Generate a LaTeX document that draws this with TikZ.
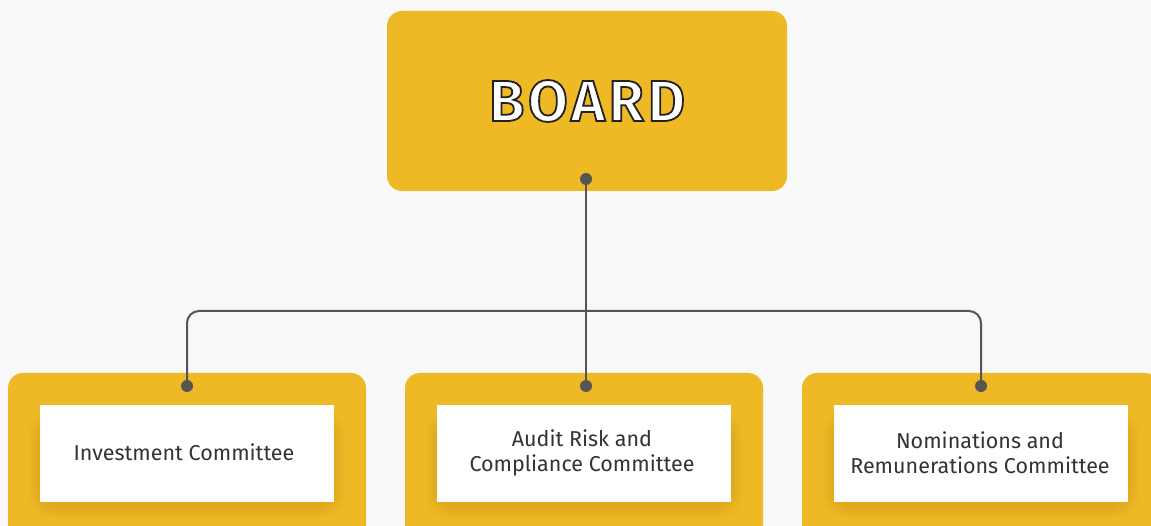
\documentclass[tikz,border=0pt]{standalone}
\usepackage{fontspec}
\setmainfont{Fira Sans}
\newfontfamily\boardfont{Fira Sans}[UprightFont=* SemiBold, LetterSpace=6]
\usetikzlibrary{positioning}
\definecolor{bg}{HTML}{F9F9F9}
\definecolor{gold}{HTML}{EFB825}
\definecolor{goldshade}{HTML}{C9940E}
\definecolor{wire}{HTML}{555555}
\definecolor{ink}{HTML}{333333}
% outlined glyphs: fill white, stroke dark (text render mode 2)
\newcommand{\outlinedtext}[1]{\special{pdf:literal 2 Tr 1.8 w 0.13 0.13 0.13 RG}#1\special{pdf:literal 0 Tr}}
\tikzset{
  panel/.style={fill=gold, rounded corners=15pt, inner sep=0pt},
  label box/.style={fill=white, minimum width=294pt, minimum height=97pt, inner sep=0pt},
  label text/.style={align=center, inner sep=0pt, font=\fontsize{21.5}{25}\selectfont, text=ink},
  conn/.style={draw=wire, line width=2pt},
  pin/.style={fill=wire},
}
\begin{document}
\begin{tikzpicture}[x=1pt, y=-1pt]
  \useasboundingbox (0,0) rectangle (1151,526);
  \fill[bg] (0,0) rectangle (1151,526);
  \clip (0,0) rectangle (1151,526);

  % top panel
  \node[panel, minimum width=400pt, minimum height=180pt] (board) at (587,101) {};
  \node[text=white, font=\boardfont\fontsize{58}{60}\selectfont] (boardlabel) at (587,101) {\outlinedtext{BOARD}};

  % committee panels (running off the lower edge)
  \foreach \n/\cx in {inv/187, audit/584, nom/981} {
    \node[panel, minimum width=358pt, minimum height=190pt] (\n panel) at (\cx,468) {};
    % soft shade under the label box
    \foreach \k in {0,...,7} {
      \fill[goldshade, opacity=0.045, rounded corners=22pt]
        (\cx-158+\k*1.5, 412+\k) rectangle (\cx+158-\k*1.5, 518-\k*1.5);
    }
    \node[label box] (\n box) at (\cx,453.5) {};
  }
  \node[label text] (inv) at (184,452) {Investment Committee};
  \node[label text] (audit) at (582,453) {Audit Risk and\\Compliance Committee};
  \node[label text] (nom) at (980,453) {Nominations and\\Remunerations Committee};

  % connector end points
  \coordinate (bpin) at (586,179);
  \coordinate (ipin) at (187,386);
  \coordinate (apin) at (586,386);
  \coordinate (npin) at (981,386);
  \coordinate (hub) at (586,311);

  \draw[conn] (bpin) -- (apin);
  \draw[conn, rounded corners=12pt] (ipin) |- (hub) -| (npin);

  \foreach \p in {bpin, ipin, apin, npin}
    \fill[pin] (\p) circle (6pt);
\end{tikzpicture}
\end{document}
